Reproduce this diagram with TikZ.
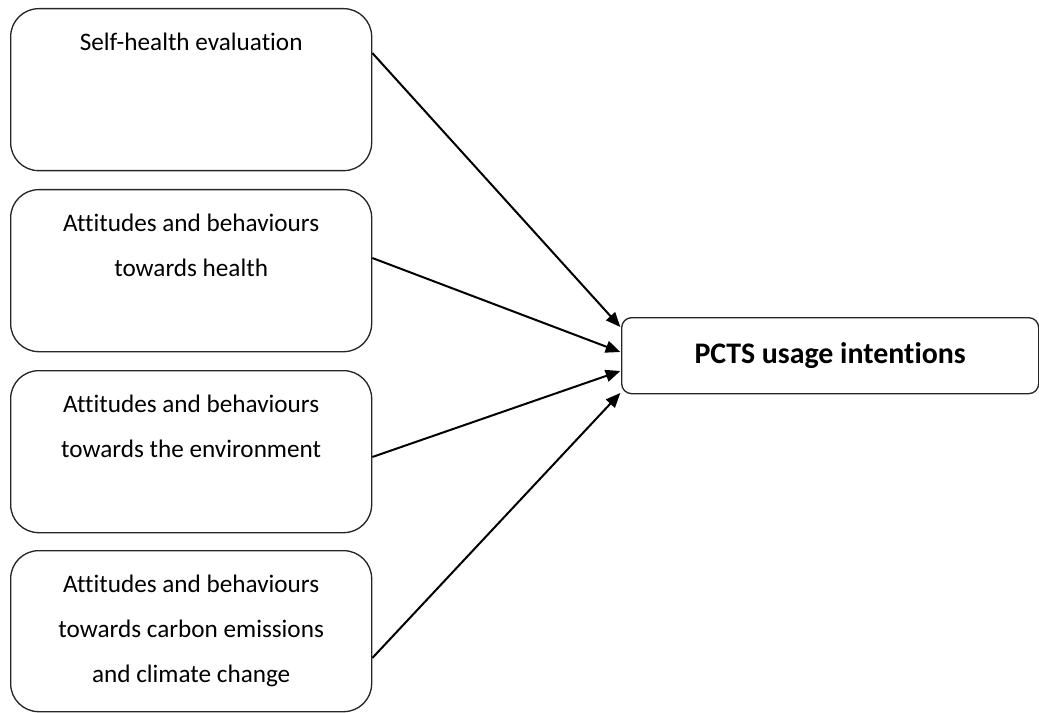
\documentclass[tikz,border=0pt]{standalone}
\usepackage{fontspec}
\setmainfont[Ligatures=NoCommon]{Carlito}
\usetikzlibrary{arrows.meta,calc}
\begin{document}
\begin{tikzpicture}[x=0.75pt,y=-0.75pt,
  srcbox/.style={draw=black!85,line width=1pt,rounded corners=21pt,inner sep=0pt,
     minimum width=270.75pt,minimum height=121.5pt,anchor=north west},
  tgtbox/.style={draw=black!85,line width=1pt,rounded corners=7.5pt,inner sep=0pt,
     minimum width=312.75pt,minimum height=57pt,anchor=north west,
     font=\fontsize{22.4}{26}\selectfont\bfseries},
  boxtext/.style={anchor=north,inner sep=0pt,align=center,
     font=\fontsize{18.9}{33.75}\selectfont},
  conn/.style={line width=1.5pt,-{Triangle[length=11pt,width=9pt]}}]
\useasboundingbox (0,0) rectangle (1039,713);
\node[srcbox] (b1) at (10,8) {};
\node[srcbox] (b2) at (10,189) {};
\node[srcbox] (b3) at (10,370) {};
\node[srcbox, minimum height=120.75pt] (b4) at (10,550) {};
\node[tgtbox] (t) at (621,317) {PCTS usage intentions};
\node[boxtext] (l1) at ([yshift=-16.5pt]b1.north) {\rule{0pt}{15pt}Self-health evaluation};
\node[boxtext] (l2) at ([yshift=-16.5pt]b2.north) {\rule{0pt}{15pt}Attitudes and behaviours\\towards health};
\node[boxtext] (l3) at ([yshift=-16.5pt]b3.north) {\rule{0pt}{15pt}Attitudes and behaviours\\towards the environment};
\node[boxtext] (l4) at ([yshift=-16.5pt]b4.north) {\rule{0pt}{15pt}Attitudes and behaviours\\towards carbon emissions\\and climate change};
\draw[conn] ([yshift=-33.75pt]b1.north east) -- ([yshift=-7.5pt,xshift=-0.5pt]t.north west);
\draw[conn] ([yshift=-51.75pt]b2.north east) -- ([yshift=-26.25pt,xshift=-0.5pt]t.north west);
\draw[conn] ([yshift=-65.25pt]b3.north east) -- ([yshift=-40.5pt,xshift=-0.5pt]t.north west);
\draw[conn] ([yshift=-81pt]b4.north east) -- ([yshift=-57pt,xshift=-0.5pt]t.north west);
\end{tikzpicture}
\end{document}
